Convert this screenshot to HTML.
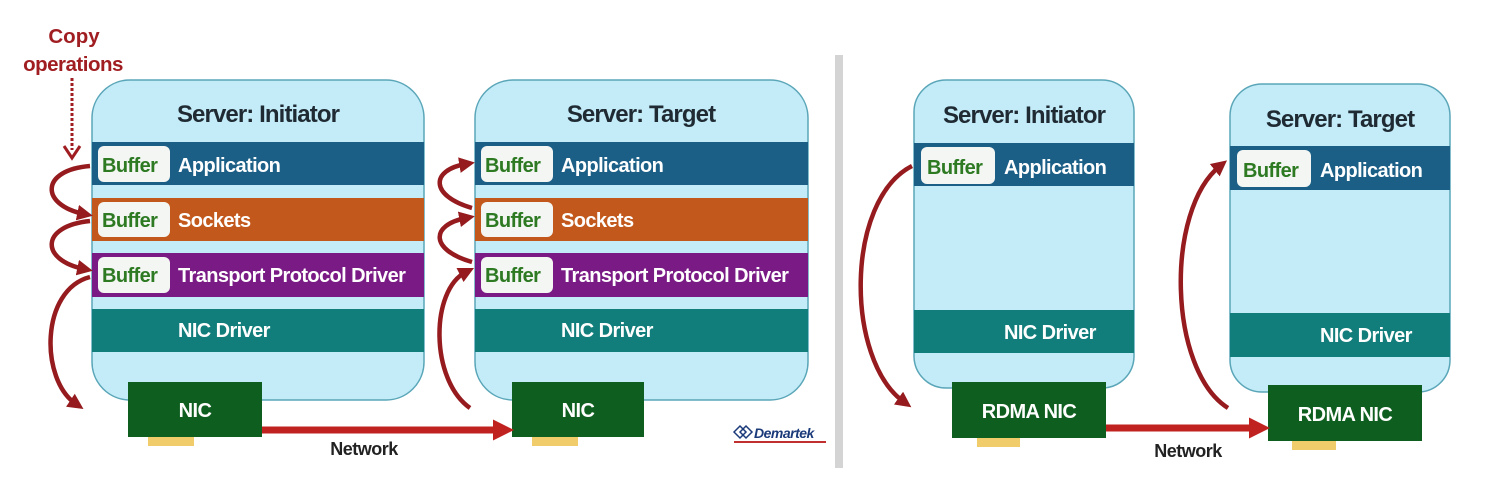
<!DOCTYPE html>
<html><head><meta charset="utf-8"><style>
html,body{margin:0;padding:0;background:#fff;}
svg{display:block;}
text{font-family:"Liberation Sans",sans-serif;font-weight:bold;}
.t{font-size:24px;fill:#1f2a33;letter-spacing:-0.9px}
.b{font-size:20px;fill:#fff;letter-spacing:-0.6px}
.bf{font-size:20px;fill:#2d7a23;letter-spacing:-0.6px}
.box{fill:#c3ecf8;stroke:#5aa6b8;stroke-width:1.5}
.buf{fill:#f3f6f2;}
.arc{fill:none;stroke:#951b1e;stroke-width:4.5}
</style></head><body>
<svg width="1486" height="493" viewBox="0 0 1486 493">
<defs>
<marker id="ah" markerWidth="3.5" markerHeight="3.5" refX="1.5" refY="1.75" orient="auto" markerUnits="strokeWidth">
<path d="M0,0 L3.5,1.75 L0,3.5 Z" fill="#951b1e"/></marker>
<marker id="nh" markerWidth="3" markerHeight="3" refX="1" refY="1.5" orient="auto" markerUnits="strokeWidth">
<path d="M0,0 L3,1.5 L0,3 Z" fill="#c0221f"/></marker>
</defs>
<rect x="835" y="55" width="8" height="413" fill="#d4d4d4"/>

<text x="74" y="43" text-anchor="middle" style="font-size:20.5px;fill:#a01e22">Copy</text>
<text x="73" y="71" text-anchor="middle" style="font-size:20.5px;fill:#a01e22;letter-spacing:-0.5px">operations</text>
<line x1="72" y1="78" x2="72" y2="150" stroke="#a01e22" stroke-width="3" stroke-dasharray="3,2"/>
<path d="M64,146 L72,158 L80,146" fill="none" stroke="#a01e22" stroke-width="3"/>

<!-- LEFT INITIATOR -->
<rect class="box" x="92" y="80" width="332" height="320" rx="38"/>
<text class="t" x="258" y="122" text-anchor="middle">Server: Initiator</text>
<rect x="92" y="142" width="332" height="43" fill="#1b5f87"/>
<rect x="92" y="198" width="332" height="43" fill="#c2581b"/>
<rect x="92" y="253" width="332" height="44" fill="#7a1b85"/>
<rect x="92" y="309" width="332" height="43" fill="#127e7b"/>
<rect class="buf" x="98" y="146" width="72" height="36" rx="6"/>
<rect class="buf" x="98" y="202" width="72" height="35" rx="6"/>
<rect class="buf" x="98" y="257" width="72" height="36" rx="6"/>
<text class="bf" x="102" y="172">Buffer</text>
<text class="bf" x="102" y="227">Buffer</text>
<text class="bf" x="102" y="282">Buffer</text>
<text class="b" x="178" y="172">Application</text>
<text class="b" x="178" y="227">Sockets</text>
<text class="b" x="178" y="282">Transport Protocol Driver</text>
<text class="b" x="178" y="337">NIC Driver</text>
<rect x="128" y="382" width="134" height="55" fill="#0e5e1f"/>
<text class="b" x="195" y="417" text-anchor="middle">NIC</text>
<rect x="148" y="437" width="46" height="9" fill="#f0cd6a"/>

<!-- LEFT TARGET -->
<rect class="box" x="475" y="80" width="333" height="320" rx="38"/>
<text class="t" x="641" y="122" text-anchor="middle">Server: Target</text>
<rect x="475" y="142" width="333" height="43" fill="#1b5f87"/>
<rect x="475" y="198" width="333" height="43" fill="#c2581b"/>
<rect x="475" y="253" width="333" height="44" fill="#7a1b85"/>
<rect x="475" y="309" width="333" height="43" fill="#127e7b"/>
<rect class="buf" x="481" y="146" width="72" height="36" rx="6"/>
<rect class="buf" x="481" y="202" width="72" height="35" rx="6"/>
<rect class="buf" x="481" y="257" width="72" height="36" rx="6"/>
<text class="bf" x="485" y="172">Buffer</text>
<text class="bf" x="485" y="227">Buffer</text>
<text class="bf" x="485" y="282">Buffer</text>
<text class="b" x="561" y="172">Application</text>
<text class="b" x="561" y="227">Sockets</text>
<text class="b" x="561" y="282">Transport Protocol Driver</text>
<text class="b" x="561" y="337">NIC Driver</text>
<rect x="512" y="382" width="132" height="55" fill="#0e5e1f"/>
<text class="b" x="578" y="417" text-anchor="middle">NIC</text>
<rect x="532" y="437" width="46" height="9" fill="#f0cd6a"/>

<line x1="262" y1="430" x2="500" y2="430" stroke="#c0221f" stroke-width="7" marker-end="url(#nh)"/>
<text x="364" y="455" text-anchor="middle" style="font-size:18px;fill:#222;letter-spacing:-0.5px">Network</text>
<g transform="translate(734,426)">
<path d="M0,6 L6,0 L12,6 L6,12 Z" fill="none" stroke="#1b3a7a" stroke-width="1.5"/>
<path d="M6,6 L12,0 L18,6 L12,12 Z" fill="none" stroke="#1b3a7a" stroke-width="1.5"/>
<text x="20" y="12" style="font-size:14px;fill:#1b3a7a;font-style:italic;letter-spacing:-0.5px">Demartek</text>
<rect x="0" y="15" width="92" height="2" fill="#c03030"/>
</g>

<path class="arc" d="M90,166 C40,170 40,205 84,214" marker-end="url(#ah)"/>
<path class="arc" d="M90,221 C40,226 40,260 84,269" marker-end="url(#ah)"/>
<path class="arc" d="M90,277 C40,290 40,380 76,404" marker-end="url(#ah)"/>
<path class="arc" d="M470,408 C430,380 430,290 466,272" marker-end="url(#ah)"/>
<path class="arc" d="M472,262 C430,250 430,225 466,218" marker-end="url(#ah)"/>
<path class="arc" d="M472,208 C430,196 430,170 466,164" marker-end="url(#ah)"/>

<!-- RIGHT INITIATOR -->
<rect class="box" x="914" y="80" width="220" height="308" rx="32"/>
<text class="t" x="1024" y="123" text-anchor="middle">Server: Initiator</text>
<rect x="914" y="143" width="220" height="43" fill="#1b5f87"/>
<rect x="914" y="310" width="220" height="43" fill="#127e7b"/>
<rect class="buf" x="921" y="147" width="74" height="37" rx="6"/>
<text class="bf" x="927" y="174">Buffer</text>
<text class="b" x="1004" y="174">Application</text>
<text class="b" x="1004" y="339">NIC Driver</text>
<rect x="952" y="382" width="154" height="56" fill="#0e5e1f"/>
<text class="b" x="1029" y="418" text-anchor="middle">RDMA NIC</text>
<rect x="977" y="438" width="43" height="9" fill="#f0cd6a"/>
<path class="arc" d="M912,166 C845,200 845,360 904,402" marker-end="url(#ah)"/>

<!-- RIGHT TARGET -->
<rect class="box" x="1230" y="84" width="220" height="308" rx="32"/>
<text class="t" x="1340" y="127" text-anchor="middle">Server: Target</text>
<rect x="1230" y="146" width="220" height="44" fill="#1b5f87"/>
<rect x="1230" y="313" width="220" height="44" fill="#127e7b"/>
<rect class="buf" x="1237" y="150" width="74" height="37" rx="6"/>
<text class="bf" x="1243" y="177">Buffer</text>
<text class="b" x="1320" y="177">Application</text>
<text class="b" x="1320" y="342">NIC Driver</text>
<rect x="1268" y="385" width="154" height="56" fill="#0e5e1f"/>
<text class="b" x="1345" y="421" text-anchor="middle">RDMA NIC</text>
<rect x="1292" y="441" width="44" height="9" fill="#f0cd6a"/>
<path class="arc" d="M1228,408 C1168,370 1165,210 1220,166" marker-end="url(#ah)"/>

<line x1="1106" y1="428" x2="1256" y2="428" stroke="#c0221f" stroke-width="7" marker-end="url(#nh)"/>
<text x="1188" y="457" text-anchor="middle" style="font-size:18px;fill:#222;letter-spacing:-0.5px">Network</text>
</svg>
</body></html>
